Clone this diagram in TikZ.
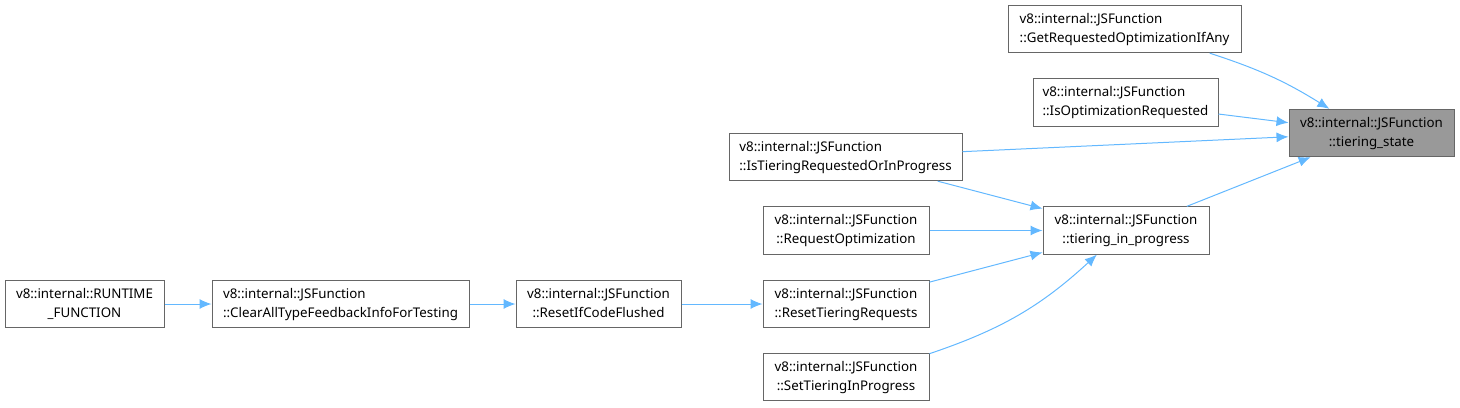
\documentclass[tikz,border=0pt]{standalone}
\usepackage{fontspec}
\setmainfont{Noto Sans}
\usepackage{tikz}
\usetikzlibrary{arrows.meta}
\definecolor{edgeblue}{HTML}{63B8FF}
\definecolor{boxgray}{HTML}{666666}
\definecolor{curgray}{HTML}{999999}
\newcommand{\fnlbl}[2]{\begin{tabular}{@{}l@{}}#1\\\multicolumn{1}{@{}c@{}}{#2}\end{tabular}}
\tikzset{
  fnbox/.style={draw=boxgray,line width=0.75pt,fill=white,inner sep=1pt,
    font=\fontsize{10}{14}\selectfont,minimum height=35.5pt},
  curbox/.style={fnbox,fill=curgray},
  calls/.style={->,draw=edgeblue,line width=0.75pt}
}
\begin{document}
\begin{tikzpicture}[>={Latex[length=9pt,width=7.5pt]},x=0.75pt,y=-0.75pt]
\useasboundingbox (0,0) rectangle (1460,407);
\node[curbox,minimum width=123.75pt] (state) at (1371.5,133) {\fnlbl{v8::internal::JSFunction}{::tiering\_state}};
\node[fnbox,minimum width=174.75pt] (getreq) at (1124.5,29) {\fnlbl{v8::internal::JSFunction}{::GetRequestedOptimizationIfAny}};
\node[fnbox,minimum width=138.75pt] (isopt) at (1125.5,102.5) {\fnlbl{v8::internal::JSFunction}{::IsOptimizationRequested}};
\node[fnbox,minimum width=174.75pt] (istier) at (845.5,157) {\fnlbl{v8::internal::JSFunction}{::IsTieringRequestedOrInProgress}};
\node[fnbox,minimum width=124.5pt] (inprog) at (1126,230.5) {\fnlbl{v8::internal::JSFunction}{::tiering\_in\_progress}};
\node[fnbox,minimum width=124.5pt] (reqopt) at (846,230.5) {\fnlbl{v8::internal::JSFunction}{::RequestOptimization}};
\node[fnbox,minimum width=124.5pt] (resettier) at (846,304) {\fnlbl{v8::internal::JSFunction}{::ResetTieringRequests}};
\node[fnbox,minimum width=124.5pt] (settier) at (846,377) {\fnlbl{v8::internal::JSFunction}{::SetTieringInProgress}};
\node[fnbox,minimum width=123.75pt] (resetif) at (598.5,304) {\fnlbl{v8::internal::JSFunction}{::ResetIfCodeFlushed}};
\node[fnbox,minimum width=192.75pt] (clear) at (340.5,304) {\fnlbl{v8::internal::JSFunction}{::ClearAllTypeFeedbackInfoForTesting}};
\node[fnbox,minimum width=119.25pt] (runtime) at (84.5,304) {\fnlbl{v8::internal::RUNTIME}{\_FUNCTION}};
\draw[calls] (getreq) to[bend left=7] (state);
\draw[calls] (isopt) -- (state);
\draw[calls] (istier) -- (state);
\draw[calls] (inprog) -- (state);
\draw[calls] (istier) -- (inprog);
\draw[calls] (reqopt) -- (inprog);
\draw[calls] (resettier) -- (inprog);
\draw[calls] (settier) to[bend right=12] (inprog);
\draw[calls] (resetif) -- (resettier);
\draw[calls] (clear) -- (resetif);
\draw[calls] (runtime) -- (clear);
\end{tikzpicture}
\end{document}
